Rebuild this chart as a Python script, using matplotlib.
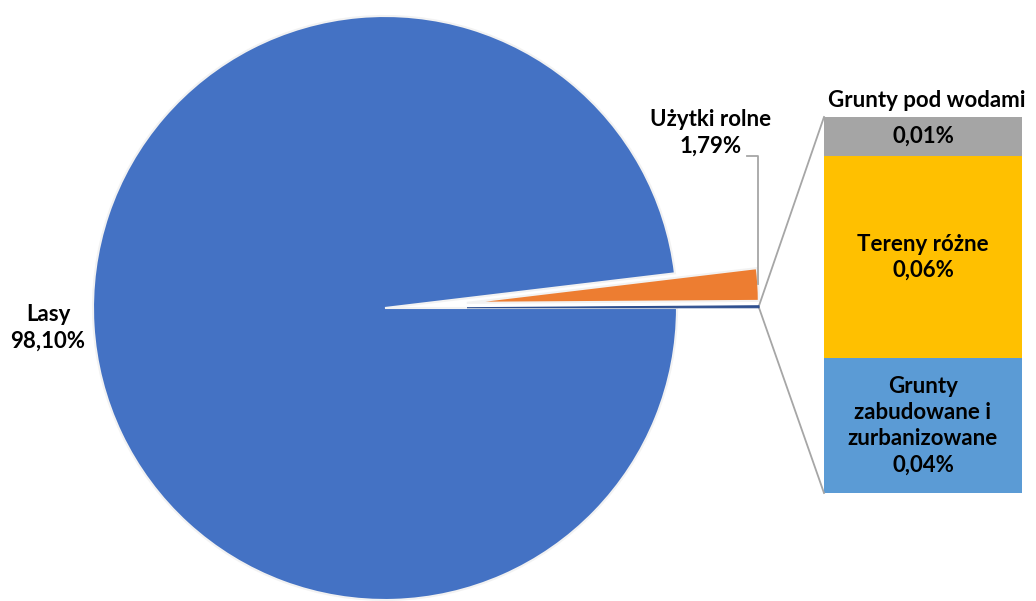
import numpy as np
import matplotlib
matplotlib.use("Agg")
import matplotlib.pyplot as plt

plt.rcParams['font.family'] = ['Lato', 'DejaVu Sans']

# pie: share of area (%), the first slice is "other" and is split into the bar
pie_labels = ["Pozostałe", "Użytki rolne", "Lasy"]
pie_values = [0.106, 1.79, 98.10]
pie_colors = ["#2E4F8F", "#ED7D31", "#4472C4"]

# bar split of the "other" slice, bottom to top
bar_labels = ["Grunty\nzabudowane i\nzurbanizowane", "Tereny różne", "Grunty pod wodami"]
bar_values = [0.038, 0.057, 0.011]
bar_colors = ["#5B9BD5", "#FFC000", "#A5A5A5"]


def pct(v):
    return ("%.2f%%" % v).replace(".", ",")


fig = plt.figure(figsize=(10.36, 6.01), dpi=100)
ax = fig.add_axes([0, 0, 1, 1])

cx, cy, R = 385, 308, 292
off = 82  # explode distance (data units)
wedges, _ = ax.pie(pie_values, colors=pie_colors, startangle=0, counterclock=False,
                   center=(cx, cy), radius=R, explode=[off, off, 0],
                   wedgeprops=dict(edgecolor="#F2F2F2", linewidth=1.5))
# the thin "other" slice keeps its own colour as edge so it stays visible
wedges[0].set_edgecolor(pie_colors[0])
wedges[0].set_linewidth(0.8)
wedges[0].set_zorder(3)

ax.set_xlim(0, 1036)
ax.set_ylim(601, 0)
ax.set_aspect("equal")
ax.axis("off")

tot = sum(pie_values)
fs = 16

# bar of pie
bar_x, bar_w = 923, 198
bar_bottom, bar_top = 493, 117
scale = (bar_bottom - bar_top) / sum(bar_values)
cur = bar_bottom
for lab, v, c in zip(bar_labels, bar_values, bar_colors):
    h = v * scale
    ax.bar(bar_x, h, bottom=cur - h, width=bar_w, color=c, linewidth=0)
    mid = cur - h / 2
    if lab == "Grunty pod wodami":
        ax.text(bar_x, mid, pct(v), ha="center", va="center", fontsize=fs, fontweight="bold")
        ax.text(bar_x + 4, cur - h - 6, lab, ha="center", va="bottom", fontsize=fs, fontweight="bold")
    else:
        ax.text(bar_x, mid, lab + "\n" + pct(v), ha="center", va="center",
                fontsize=fs, fontweight="bold", linespacing=1.3)
    cur -= h

# connector lines from the exploded "other" slice
a_other = np.deg2rad(pie_values[0] / tot * 360)
ox = cx + off * np.cos(a_other / 2)
oy = cy - off * np.sin(a_other / 2)
p_bot = (ox + R, oy)
p_top = (ox + R * np.cos(a_other), oy - R * np.sin(a_other))
bl = bar_x - bar_w / 2
ax.plot([p_top[0], bl], [p_top[1], bar_top], color="#A6A6A6", lw=1.3)
ax.plot([p_bot[0], bl], [p_bot[1], bar_bottom], color="#A6A6A6", lw=1.3)

# leader for "Użytki rolne"
a_u0 = a_other
a_u1 = np.deg2rad((pie_values[0] + pie_values[1]) / tot * 360)
a_um = (a_u0 + a_u1) / 2
ux = cx + off * np.cos(a_um) + R * np.cos(a_um)
uy = cy - off * np.sin(a_um) - R * np.sin(a_um)
ax.plot([747, ux, ux], [156, 156, uy], color="#A6A6A6", lw=1.3)
ax.text(711, 133, pie_labels[1] + "\n" + pct(pie_values[1]), ha="center", va="center",
        fontsize=fs, fontweight="bold", linespacing=1.3)

ax.text(48, 328, pie_labels[2] + "\n" + pct(pie_values[2]), ha="center", va="center",
        fontsize=fs, fontweight="bold", linespacing=1.3)

fig.savefig("out.png", dpi=100)
